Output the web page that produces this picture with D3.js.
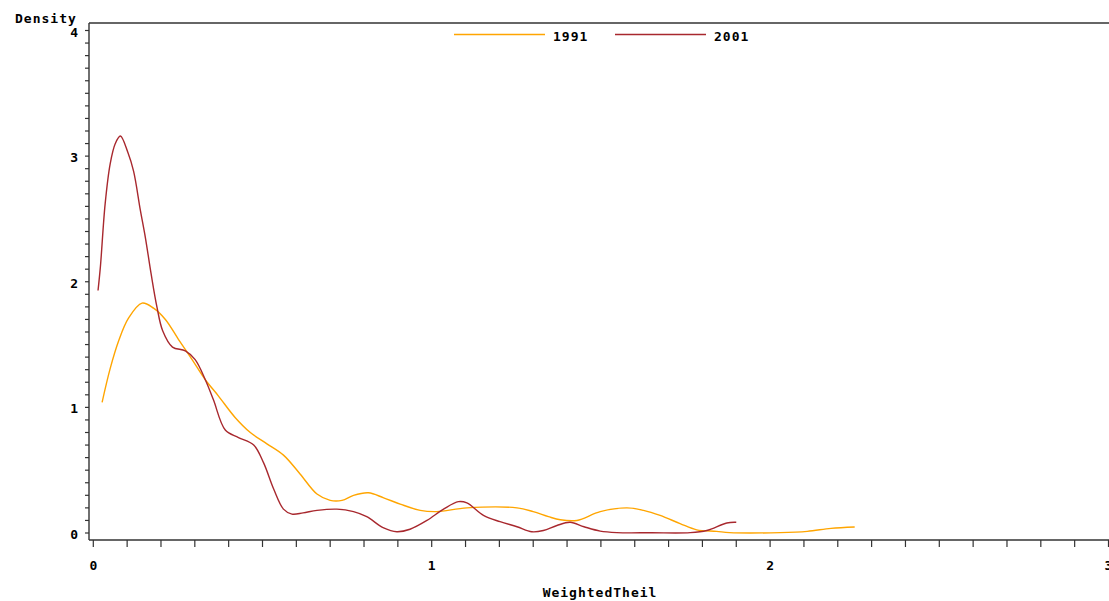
<!DOCTYPE html>
<html>
<head>
<meta charset="utf-8">
<script src="https://cdn.jsdelivr.net/npm/d3@7"></script>
<style>
  body { margin: 0; background: #fff; }
  text { font-family: "DejaVu Sans Mono", monospace; font-weight: bold; font-size: 13px; letter-spacing: 1px; fill: #000; }
</style>
</head>
<body>
<svg id="chart" width="1109" height="601"></svg>
<script>
// kernel density curves of WeightedTheil
var years = ["1991", "2001"];
var x1991 = [0.026,0.050,0.075,0.104,0.144,0.178,0.213,0.252,0.292,0.331,0.370,0.419,0.464,0.513,0.562,0.611,0.661,0.700,0.735,0.769,0.813,0.858,0.907,0.966,1.015,1.104,1.252,1.300,1.345,1.380,1.429,1.498,1.577,1.626,1.675,1.734,1.783,1.842,1.880,2.030,2.110,2.180,2.250];
var d1991 = [1.04,1.31,1.53,1.71,1.83,1.79,1.70,1.54,1.38,1.22,1.09,0.92,0.80,0.71,0.62,0.47,0.31,0.26,0.26,0.30,0.32,0.28,0.23,0.18,0.17,0.20,0.20,0.17,0.13,0.105,0.10,0.17,0.20,0.18,0.14,0.075,0.025,0.013,0.003,0.003,0.013,0.037,0.048];
var x2001 = [0.014,0.021,0.035,0.050,0.065,0.080,0.102,0.119,0.139,0.154,0.171,0.188,0.205,0.234,0.272,0.301,0.331,0.355,0.390,0.429,0.474,0.503,0.533,0.562,0.587,0.620,0.661,0.720,0.769,0.808,0.858,0.897,0.936,0.986,1.035,1.079,1.104,1.153,1.202,1.252,1.296,1.330,1.370,1.409,1.450,1.498,1.547,1.650,1.764,1.813,1.872,1.900];
var d2001 = [1.93,2.12,2.62,2.94,3.10,3.16,3.03,2.88,2.57,2.35,2.06,1.80,1.61,1.48,1.45,1.38,1.22,1.06,0.82,0.76,0.70,0.56,0.35,0.19,0.15,0.16,0.18,0.19,0.17,0.13,0.04,0.01,0.03,0.10,0.19,0.25,0.24,0.14,0.09,0.05,0.01,0.02,0.06,0.085,0.05,0.015,0.003,0.002,0.003,0.02,0.08,0.085];
var xTickLabels = [0, 1, 2, 3];
var yTickLabels = [0, 1, 2, 3, 4];
var colors = {"1991": "#FFA500", "2001": "#A8282E"};

var svg = d3.select("#chart");

const x = d3.scaleLinear().domain([0, 3]).range([93.3, 1108.5]);
const y = d3.scaleLinear().domain([0, 4]).range([533, 30.5]);

/** frame: top, left, bottom */
var frame = "#333";
svg.append("line").attr("x1", 89).attr("x2", 1109).attr("y1", 23).attr("y2", 23).attr("stroke", frame).attr("stroke-width", 1.4);
svg.append("line").attr("x1", 89).attr("x2", 89).attr("y1", 23).attr("y2", 540).attr("stroke", frame).attr("stroke-width", 1.4);
svg.append("line").attr("x1", 89).attr("x2", 1109).attr("y1", 540).attr("y2", 540).attr("stroke", frame).attr("stroke-width", 1.4);

/** y ticks every 0.1, labels on integers */
svg.selectAll(".yTick")
  .data(d3.range(0, 41).map(d => d / 10))
  .join("line")
  .attr("class", "yTick")
  .attr("x1", 85).attr("x2", 89)
  .attr("y1", d => y(d)).attr("y2", d => y(d))
  .attr("stroke", frame).attr("stroke-width", 1.2);
svg.selectAll(".yLabel")
  .data(yTickLabels)
  .join("text")
  .attr("class", "yLabel")
  .attr("x", 79).attr("y", d => y(d) + 6)
  .attr("text-anchor", "end")
  .text(d => d);

/** x ticks every 0.1, labels on integers (the 3 sits on the page edge, as in the original) */
svg.selectAll(".xTick")
  .data(d3.range(0, 31).map(d => d / 10))
  .join("line")
  .attr("class", "xTick")
  .attr("x1", d => x(d)).attr("x2", d => x(d))
  .attr("y1", 540).attr("y2", 547)
  .attr("stroke", frame).attr("stroke-width", 1.2);
svg.selectAll(".xLabel")
  .data(xTickLabels)
  .join("text")
  .attr("class", "xLabel")
  .attr("x", d => x(d) + 0.5).attr("y", 570)
  .attr("text-anchor", "middle")
  .text(d => d);

/** axis titles */
svg.append("text").attr("x", 15).attr("y", 23).text("Density");
svg.append("text").attr("x", 600).attr("y", 597).attr("text-anchor", "middle").text("WeightedTheil");

/** density lines */
var series = [
  {year: "1991", pts: x1991.map((v, i) => [v, d1991[i]])},
  {year: "2001", pts: x2001.map((v, i) => [v, d2001[i]])}
];
var line = d3.line()
  .curve(d3.curveCatmullRom.alpha(0.5))
  .x(d => x(d[0]))
  .y(d => y(d[1]));
svg.selectAll(".densLine")
  .data(series)
  .join("path")
  .attr("class", "densLine")
  .attr("fill", "none")
  .attr("stroke", d => colors[d.year])
  .attr("stroke-width", 1.4)
  .attr("d", d => line(d.pts));

/** legend */
var legendX = [454, 615];
svg.selectAll(".legendLine")
  .data(years)
  .join("line")
  .attr("class", "legendLine")
  .attr("x1", (d, i) => legendX[i]).attr("x2", (d, i) => legendX[i] + 91)
  .attr("y1", 34.5).attr("y2", 34.5)
  .attr("stroke", d => colors[d]).attr("stroke-width", 1.4);
svg.selectAll(".legendText")
  .data(years)
  .join("text")
  .attr("class", "legendText")
  .attr("x", (d, i) => legendX[i] + 99).attr("y", 41)
  .text(d => d);
</script>
</body>
</html>
